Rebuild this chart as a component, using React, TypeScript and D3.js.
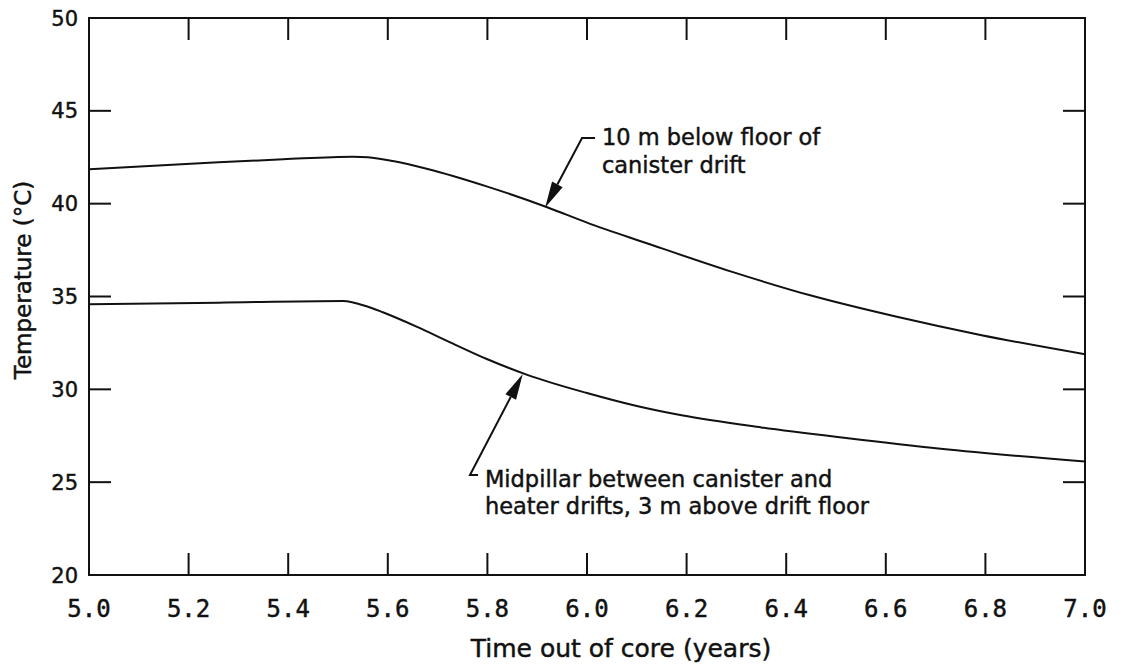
import React from "react";
import * as d3 from "d3";

// ---- data ----
const upperTimes = [5.0, 5.26, 5.39, 5.53, 5.56, 5.61, 5.68, 5.8, 5.92, 6.0, 6.12, 6.29, 6.45, 6.62, 6.79, 7.0];
const upperTemps = [41.85, 42.23, 42.39, 42.53, 42.5, 42.3, 41.87, 40.92, 39.81, 38.98, 37.87, 36.34, 35.05, 33.92, 32.93, 31.89];

const lowerTimes = [5.0, 5.26, 5.51, 5.56, 5.59, 5.66, 5.72, 5.8, 5.88, 6.0, 6.1, 6.19, 6.35, 6.52, 6.71, 7.0];
const lowerTemps = [34.58, 34.67, 34.76, 34.45, 34.15, 33.35, 32.6, 31.62, 30.78, 29.8, 29.1, 28.6, 27.95, 27.38, 26.8, 26.11];

const xTicks = [5.0, 5.2, 5.4, 5.6, 5.8, 6.0, 6.2, 6.4, 6.6, 6.8, 7.0];
const yTicks = [20, 25, 30, 35, 40, 45, 50];

const upperLabel = ["10 m below floor of", "canister drift"];
const lowerLabel = ["Midpillar between canister and", "heater drifts, 3 m above drift floor"];

// annotation anchor points in data units: [tip time, tip temp, hook time, hook temp, text time, text temp]
const upperAnno = [5.916, 39.8, 5.99, 43.54, 6.03, 43.16];
const lowerAnno = [5.871, 30.83, 5.765, 25.39, 5.795, 24.74];

const xTitle = "Time out of core (years)";
const yTitle = "Temperature (\u00B0C)";

export default function App() {
  const W = 1126, H = 665;
  const left = 89, right = 1085, top = 18, bottom = 575;
  const x = d3.scaleLinear().domain([5, 7]).range([left, right]);
  const y = d3.scaleLinear().domain([20, 50]).range([bottom, top]);
  const line = d3
    .line<[number, number]>()
    .x((d) => x(d[0]))
    .y((d) => y(d[1]))
    .curve(d3.curveMonotoneX);

  const upper = upperTimes.map((t, i) => [t, upperTemps[i]] as [number, number]);
  const lower = lowerTimes.map((t, i) => [t, lowerTemps[i]] as [number, number]);

  const tickLen = 22;
  const ink = "#111";
  const sans = "'DejaVu Sans', sans-serif";
  const mono = "'DejaVu Sans Mono', monospace";
  const txtStroke = { stroke: ink, strokeWidth: 0.45 };

  const arrow = (a: number[], hookDx: number, key: string) => {
    const tx = x(a[0]), ty = y(a[1]);
    const hx = x(a[2]), hy = y(a[3]);
    const ang = Math.atan2(ty - hy, tx - hx);
    const L = 26, hw = 6;
    const bx = tx - L * Math.cos(ang), by = ty - L * Math.sin(ang);
    const px = -Math.sin(ang) * hw, py = Math.cos(ang) * hw;
    return (
      <g key={key}>
        <path d={`M${hx + hookDx},${hy} L${hx},${hy} L${bx},${by}`} fill="none" stroke={ink} strokeWidth={2} />
        <path d={`M${tx},${ty} L${bx + px},${by + py} L${bx - px},${by - py} Z`} fill={ink} />
      </g>
    );
  };

  return (
    <svg
      width={W}
      height={H}
      style={{ position: "absolute", left: 0, top: 0, background: "#fff" }}
    >
      <rect x={0} y={0} width={W} height={H} fill="#fff" />
      {/* frame */}
      <rect x={left} y={top} width={right - left} height={bottom - top} fill="none" stroke={ink} strokeWidth={2} />
      {/* x ticks */}
      {xTicks.slice(1, -1).map((t) => (
        <g key={"xt" + t}>
          <line x1={x(t)} x2={x(t)} y1={bottom} y2={bottom - tickLen} stroke={ink} strokeWidth={2} />
          <line x1={x(t)} x2={x(t)} y1={top} y2={top + tickLen} stroke={ink} strokeWidth={2} />
        </g>
      ))}
      {xTicks.map((t) => (
        <text key={"xl" + t} x={x(t)} y={617} textAnchor="middle" fontFamily={mono} fontSize={24} fill={ink} {...txtStroke}>
          {t.toFixed(1)}
        </text>
      ))}
      {/* y ticks */}
      {yTicks.slice(1, -1).map((t) => (
        <g key={"yt" + t}>
          <line x1={left} x2={left + tickLen} y1={y(t)} y2={y(t)} stroke={ink} strokeWidth={2} />
          <line x1={right} x2={right - tickLen} y1={y(t)} y2={y(t)} stroke={ink} strokeWidth={2} />
        </g>
      ))}
      {yTicks.map((t) => (
        <text key={"yl" + t} x={78} y={y(t)} dy="0.36em" textAnchor="end" fontFamily={sans} fontSize={21} fill={ink} {...txtStroke}>
          {t}
        </text>
      ))}
      {/* titles */}
      <text x={(left + right) / 2 + 34} y={657} textAnchor="middle" fontFamily={sans} fontSize={25} fill={ink} {...txtStroke}>
        {xTitle}
      </text>
      <text
        transform={`translate(31,${280}) rotate(-90)`}
        textAnchor="middle"
        fontFamily={sans}
        fontSize={23}
        fill={ink}
        {...txtStroke}
      >
        {yTitle}
      </text>
      {/* curves */}
      <path d={line(upper) || ""} fill="none" stroke={ink} strokeWidth={2} />
      <path d={line(lower) || ""} fill="none" stroke={ink} strokeWidth={2} />
      {/* annotations */}
      {arrow(upperAnno, 13, "ua")}
      {arrow(lowerAnno, 8, "la")}
      {upperLabel.map((s, i) => (
        <text key={"ul" + i} x={x(upperAnno[4])} y={y(upperAnno[5]) + i * 28} fontFamily={sans} fontSize={22.5} fill={ink} {...txtStroke}>
          {s}
        </text>
      ))}
      {lowerLabel.map((s, i) => (
        <text key={"ll" + i} x={x(lowerAnno[4])} y={y(lowerAnno[5]) + i * 27} fontFamily={sans} fontSize={22.5} fill={ink} {...txtStroke}>
          {s}
        </text>
      ))}
    </svg>
  );
}
